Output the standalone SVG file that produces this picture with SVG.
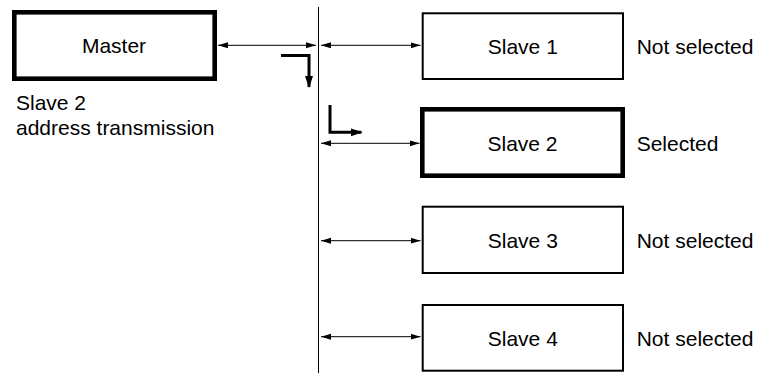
<svg xmlns="http://www.w3.org/2000/svg" width="760" height="373" viewBox="0 0 760 373">
<style>
text{font-family:"Liberation Sans",Arial,sans-serif;font-size:21px;fill:#000}
.box{fill:#fff;stroke:#000;stroke-width:2}
.thick{fill:#fff;stroke:#000;stroke-width:4.6}
.lab{text-anchor:middle}
.con{stroke:#000;stroke-width:1;fill:none}
.hook{stroke:#000;stroke-width:3;fill:none;stroke-linejoin:miter}
</style>
<defs>
<marker id="ah" markerUnits="userSpaceOnUse" markerWidth="11" markerHeight="7" refX="10" refY="3" orient="auto-start-reverse">
<path d="M0,0 L10,3 L0,6 z" fill="#000"/>
</marker>
<marker id="ahb" markerUnits="userSpaceOnUse" markerWidth="13" markerHeight="9" refX="11" refY="4" orient="auto">
<path d="M0,0 L12,4 L0,8 z" fill="#000"/>
</marker>
</defs>
<g id="connectors">
<line class="con" x1="318.5" y1="7" x2="318.5" y2="373"/>
<line class="con" x1="218" y1="45.3" x2="316" y2="45.3" marker-start="url(#ah)" marker-end="url(#ah)"/>
<line class="con" x1="321" y1="45.3" x2="420.5" y2="45.3" marker-start="url(#ah)" marker-end="url(#ah)"/>
<line class="con" x1="321" y1="143.3" x2="419.5" y2="143.3" marker-start="url(#ah)" marker-end="url(#ah)"/>
<line class="con" x1="321" y1="240.7" x2="420.5" y2="240.7" marker-start="url(#ah)" marker-end="url(#ah)"/>
<line class="con" x1="321" y1="336.7" x2="420.5" y2="336.7" marker-start="url(#ah)" marker-end="url(#ah)"/>
<path class="hook" d="M281,55.5 H309 V87" marker-end="url(#ahb)"/>
<path class="hook" d="M330,105 V132.3 H361.5" marker-end="url(#ahb)"/>
</g>
<g id="master">
<rect class="thick" x="14.3" y="12.3" width="200.4" height="66.4"/>
<text class="lab" x="114" y="52.7">Master</text>
</g>
<g id="master-note">
<text x="16" y="109.5">Slave 2</text>
<text x="16" y="135">address transmission</text>
</g>
<g id="slave1">
<rect class="box" x="422.7" y="13.3" width="200.3" height="65.7"/>
<text class="lab" x="522.8" y="53.5">Slave 1</text>
<text x="636.7" y="53.5">Not selected</text>
</g>
<g id="slave2">
<rect class="thick" x="422.3" y="109.3" width="200.4" height="66.4"/>
<text class="lab" x="522.5" y="150.7">Slave 2</text>
<text x="636.7" y="151">Selected</text>
</g>
<g id="slave3">
<rect class="box" x="422.7" y="206.7" width="200.3" height="66.3"/>
<text class="lab" x="522.8" y="248">Slave 3</text>
<text x="636.7" y="248">Not selected</text>
</g>
<g id="slave4">
<rect class="box" x="422.7" y="305" width="200.3" height="65.7"/>
<text class="lab" x="522.8" y="345.5">Slave 4</text>
<text x="636.7" y="345.5">Not selected</text>
</g>
</svg>
